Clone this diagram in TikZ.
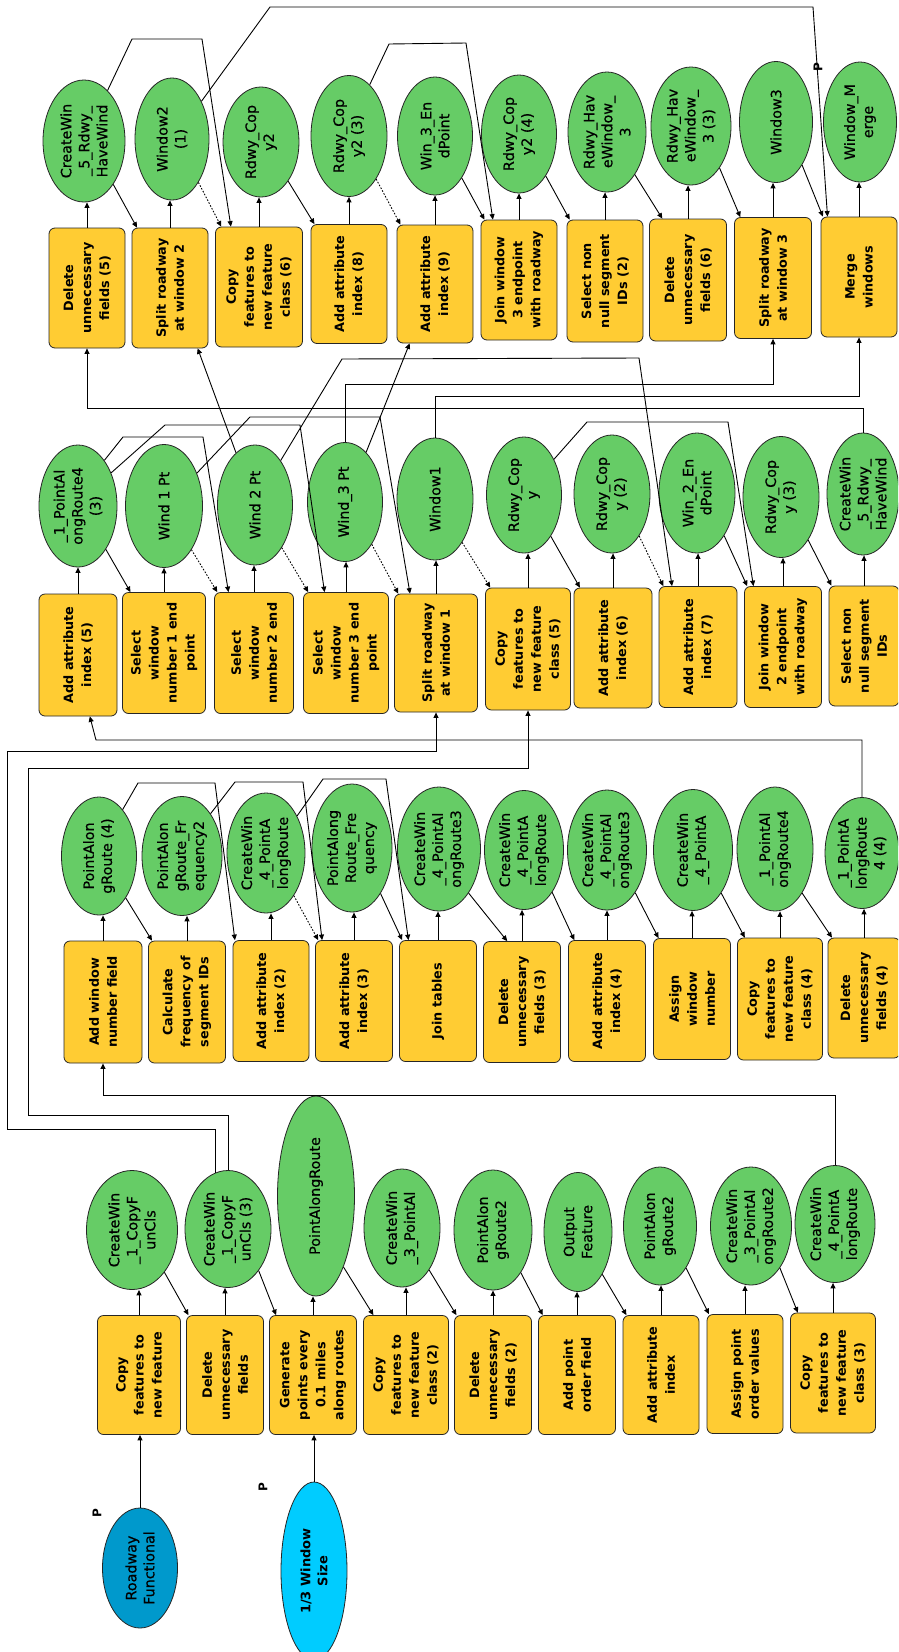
\documentclass[tikz,border=0pt]{standalone}
\usepackage{fontspec}
\setmainfont{DejaVu Sans}
\newfontfamily\medfont{DejaVu Sans}[FakeBold=0.5]
\usetikzlibrary{shapes.geometric,arrows.meta,calc}
\definecolor{procyellow}{HTML}{FFCC33}
\definecolor{vargreen}{HTML}{66CC66}
\definecolor{inblue}{HTML}{0099CC}
\definecolor{incyan}{HTML}{00CCFF}
\newcommand\bxfont{\bfseries\fontsize{12.8}{18}\selectfont}
\newcommand\vrfont{\medfont\fontsize{14.3}{18}\selectfont}
\begin{document}
\begin{tikzpicture}[x=1pt,y=-1pt,
  procbox/.style={draw=black!85, line width=0.8pt, fill=procyellow, rounded corners=6pt, rotate=90, align=center, inner sep=1pt, font=\bxfont},
  dvar/.style={draw=black!85, line width=0.8pt, fill=vargreen, ellipse, rotate=90, align=center, inner sep=0pt, font=\vrfont},
  sz/.style 2 args={minimum width=#2pt, minimum height=#1pt},
  conn/.style={line width=0.9pt, -{Triangle[length=5.5pt,width=5pt]}},
  prec/.style={conn, dash pattern=on 1.6pt off 1.6pt},
  plabel/.style={rotate=90, font=\bfseries\fontsize{12}{13}\selectfont, inner sep=0pt}]
\useasboundingbox (0,0) rectangle (898,1652);
\clip (0,0) rectangle (898,1652);
\fill[white] (0,0) rectangle (898,1652);

% ---------------- Band D (top)
\node[procbox, sz={76}{120}] (D1b) at (87,288) {Delete\\unnecessary\\fields (5)};
\node[dvar, sz={82}{122}] (D1e) at (84,141) {CreateWin\\\_5\_Rdwy\_\\HaveWind};
\node[procbox, sz={76}{120}] (D2b) at (170,288) {Split roadway\\at window 2};
\node[dvar, sz={74}{122}] (D2e) at (172,139) {Window2\\(1)};
\node[procbox, sz={87}{120}] (D3b) at (259,287) {Copy\\features to\\new feature\\class (6)};
\node[dvar, sz={76}{110}] (D3e) at (261,142) {Rdwy\_Cop\\y2};
\node[procbox, sz={76}{119}] (D4b) at (349,284) {Add attribute\\index (8)};
\node[dvar, sz={76}{121}] (D4e) at (349,136) {Rdwy\_Cop\\y2 (3)};
\node[procbox, sz={76}{118}] (D5b) at (435,284) {Add attribute\\index (9)};
\node[dvar, sz={75}{118}] (D5e) at (435,136) {Win\_3\_En\\dPoint};
\node[procbox, sz={76}{120}] (D6b) at (519,280) {Join window\\3 endpoint\\with roadway};
\node[dvar, sz={75}{118}] (D6e) at (519,134) {Rdwy\_Cop\\y2 (4)};
\node[procbox, sz={76}{122}] (D7b) at (605,281) {Select non\\null segment\\IDs (2)};
\node[dvar, sz={78}{120}] (D7e) at (607,132) {Rdwy\_Hav\\eWindow\_\\3};
\node[procbox, sz={77}{122}] (D8b) at (688,280) {Delete\\unnecessary\\fields (6)};
\node[dvar, sz={80}{118}] (D8e) at (691,126) {Rdwy\_Hav\\eWindow\_\\3 (3)};
\node[procbox, sz={77}{121}] (D9b) at (773,278) {Split roadway\\at window 3};
\node[dvar, sz={73}{121}] (D9e) at (776,122) {Window3};
\node[procbox, sz={76}{120}] (D10b) at (859,277) {Merge\\windows};
\node[dvar, sz={73}{120}] (D10e) at (860,122) {Window\_M\\erge};

% ---------------- Band C
\node[procbox, sz={78}{122}] (C1b) at (78,655) {Add attribute\\index (5)};
\node[dvar, sz={78}{122}] (C1e) at (78,506) {\_1\_PointAl\\ongRoute4\\(3)};
\node[procbox, sz={83}{121}] (C2b) at (164,653) {Select\\window\\number 1 end\\point};
\node[dvar, sz={77}{123}] (C2e) at (164,506) {Wind 1 Pt};
\node[procbox, sz={79}{121}] (C3b) at (254,653) {Select\\window\\number 2 end};
\node[dvar, sz={75}{120}] (C3e) at (255,505) {Wind 2 Pt};
\node[procbox, sz={85}{121}] (C4b) at (346,653) {Select\\window\\number 3 end\\point};
\node[dvar, sz={75}{119}] (C4e) at (345,502) {Wind\_3 Pt};
\node[procbox, sz={83}{118}] (C5b) at (436,653) {Split roadway\\at window 1};
\node[dvar, sz={76}{122}] (C5e) at (435,499) {Window1};
\node[procbox, sz={85}{122}] (C6b) at (528,649) {Copy\\features to\\new feature\\class (5)};
\node[dvar, sz={75}{116}] (C6e) at (524,495) {Rdwy\_Cop\\y};
\node[procbox, sz={78}{120}] (C7b) at (613,648) {Add attribute\\index (6)};
\node[dvar, sz={76}{118}] (C7e) at (612,494) {Rdwy\_Cop\\y (2)};
\node[procbox, sz={78}{121}] (C8b) at (698,647) {Add attribute\\index (7)};
\node[dvar, sz={76}{120}] (C8e) at (697,493) {Win\_2\_En\\dPoint};
\node[procbox, sz={77}{121}] (C9b) at (783,647) {Join window\\2 endpoint\\with roadway};
\node[dvar, sz={76}{121}] (C9e) at (781,497) {Rdwy\_Cop\\y (3)};
\node[procbox, sz={70}{120}] (C10b) at (864,646) {Select non\\null segment\\IDs};
\node[dvar, sz={72}{122}] (C10e) at (863,494) {CreateWin\\\_5\_Rdwy\_\\HaveWind};

% ---------------- Band B
\node[procbox, sz={78}{122}] (B1b) at (103,1002) {Add window\\number field};
\node[dvar, sz={75}{118}] (B1e) at (99,856) {PointAlon\\gRoute (4)};
\node[procbox, sz={77}{122}] (B2b) at (187,1002) {Calculate\\frequency of\\segment IDs};
\node[dvar, sz={80}{119}] (B2e) at (182,856) {PointAlon\\gRoute\_Fr\\equency2};
\node[procbox, sz={76}{121}] (B3b) at (271,1001) {Add attribute\\index (2)};
\node[dvar, sz={78}{120}] (B3e) at (266,853) {CreateWin\\\_4\_PointA\\longRoute};
\node[procbox, sz={77}{121}] (B4b) at (354,1001) {Add attribute\\index (3)};
\node[dvar, sz={80}{128}] (B4e) at (352,848) {PointAlong\\Route\_Fre\\quency};
\node[procbox, sz={77}{121}] (B5b) at (438,1001) {Join tables};
\node[dvar, sz={83}{124}] (B5e) at (439,849) {CreateWin\\\_4\_PointAl\\ongRoute3};
\node[procbox, sz={77}{121}] (B6b) at (522,1002) {Delete\\unnecessary\\fields (3)};
\node[dvar, sz={79}{119}] (B6e) at (524,850) {CreateWin\\\_4\_PointA\\longRoute};
\node[procbox, sz={77}{121}] (B7b) at (607,1001) {Add attribute\\index (4)};
\node[dvar, sz={79}{120}] (B7e) at (607,850) {CreateWin\\\_4\_PointAl\\ongRoute3};
\node[procbox, sz={77}{121}] (B8b) at (692,999) {Assign\\window\\number};
\node[dvar, sz={79}{121}] (B8e) at (693,850) {CreateWin\\\_4\_PointA};
\node[procbox, sz={85}{122}] (B9b) at (780,999) {Copy\\features to\\new feature\\class (4)};
\node[dvar, sz={76}{124}] (B9e) at (775,849) {\_1\_PointAl\\ongRoute4};
\node[procbox, sz={72}{120}] (B10b) at (864,998) {Delete\\unnecessary\\fields (4)};
\node[dvar, sz={74}{111}] (B10e) at (862,853) {\_1\_PointA\\longRoute\\4 (4)};

% ---------------- Band A (bottom)
\node[procbox, sz={83}{119}] (A1b) at (139,1375) {Copy\\features to\\new feature};
\node[dvar, sz={91}{119}] (A1e) at (132,1230) {CreateWin\\\_1\_CopyF\\unCls};
\node[procbox, sz={77}{119}] (A2b) at (225,1375) {Delete\\unnecessary\\fields};
\node[dvar, sz={86}{117}] (A2e) at (228,1229) {CreateWin\\\_1\_CopyF\\unCls (3)};
\node[procbox, sz={87}{119}] (A3b) at (313,1375) {Generate\\points every\\0.1 miles\\along routes};
\node[dvar, sz={77}{200}] (A3e) at (316,1196) {PointAlongRoute};
\node[procbox, sz={85}{119}] (A4b) at (406,1375) {Copy\\features to\\new feature\\class (2)};
\node[dvar, sz={76}{118}] (A4e) at (402,1228) {CreateWin\\\_3\_PointAl};
\node[procbox, sz={77}{119}] (A5b) at (493,1375) {Delete\\unnecessary\\fields (2)};
\node[dvar, sz={78}{120}] (A5e) at (493,1230) {PointAlon\\gRoute2};
\node[procbox, sz={77}{119}] (A6b) at (577,1375) {Add point\\order field};
\node[dvar, sz={68}{119}] (A6e) at (578,1232) {Output\\Feature};
\node[procbox, sz={76}{119}] (A7b) at (661,1375) {Add attribute\\index};
\node[dvar, sz={73}{118}] (A7e) at (660,1226) {PointAlon\\gRoute2};
\node[procbox, sz={76}{119}] (A8b) at (745,1374) {Assign point\\order values};
\node[dvar, sz={81}{118}] (A8e) at (751,1226) {CreateWin\\\_3\_PointAl\\ongRoute2};
\node[procbox, sz={85}{120}] (A9b) at (833,1373) {Copy\\features to\\new feature\\class (3)};
\node[dvar, sz={80}{117}] (A9e) at (835,1224) {CreateWin\\\_4\_PointA\\longRoute};

% ---------------- inputs
\node[dvar, fill=inblue, sz={75}{120}] (RF) at (140,1568) {Roadway\\Functional};
\node[dvar, fill=incyan, sz={66}{178}, font=\bfseries\fontsize{13}{17}\selectfont] (WS) at (314,1571) {1/3 Window\\Size};
\node[plabel] (P1) at (97,1513) {P};
\node[plabel] (P2) at (263,1487) {P};
\node[plabel] (P3) at (818,67) {P};

% ---------------- box -> output (vertical)
\foreach \c in {D1,D2,D3,D4,D5,D6,D7,D8,D9,D10,C1,C2,C3,C4,C5,C6,C7,C8,C9,C10,B1,B2,B3,B4,B5,B6,B7,B8,B9,B10,A1,A2,A3,A4,A5,A6,A7,A8,A9}
  {\draw[conn] (\c b.east) -- (\c b.east |- \c e.west);}

% ---------------- output -> next tool (solid)
\foreach \a/\b/\f in {D1/D2/0.07, D3/D4/0.05, D5/D6/0.05, D6/D7/0.04, D7/D8/0.17, D8/D9/0.08, D9/D10/0.03,
  C1/C2/0.1, C6/C7/0.08, C8/C9/0.04, C9/C10/0.04,
  B1/B2/0.05, B4/B5/0.04, B5/B6/0.31, B6/B7/0.08, B7/B8/0.07, B8/B9/0.09, B9/B10/0.06,
  A1/A2/0.03, A2/A3/0.08, A3/A4/0.12, A4/A5/0.03, A5/A6/0.06, A6/A7/0.05, A7/A8/0.03, A8/A9/0.09}
  {\draw[conn] (\a e.south west) -- ($(\b b.north east)!\f!(\b b.south east)$);}

% ---------------- preconditions (dotted)
\foreach \a/\b/\f in {D2/D3/0.07, D4/D5/0.05, C2/C3/0.04, C3/C4/0.06, C4/C5/0.05, C5/C6/0.06, C7/C8/0.06, B3/B4/0.04}
  {\draw[prec] (\a e.south west) -- ($(\b b.north east)!\f!(\b b.south east)$);}

% ---------------- inputs
\draw[conn] (RF.east) -- (RF.east |- A1b.west);
\draw[conn] (WS.east) -- (WS.east |- A3b.west);

% ---------------- long connectors
\draw[conn] (D1e.335) -- (132,39) -- (202,39) -- ($(D3b.north east)!0.18!(D3b.south east)$);
\draw[conn] (D2e.322) -- (270,7) -- (813,7) -- ($(D10b.north east)!0.09!(D10b.south east)$);
\draw[conn] (D4e.338) -- (389,44) -- (466,43) -- ($(D6b.north east)!0.16!(D6b.south east)$);
\draw[conn] (C10e.east) -- (C10e.east |- 0,408) -- (D1b.west |- 0,408) -- (D1b.west);
\draw[conn] (C3e.20) -- ($(D2b.north west)!0.86!(D2b.south west)$);
\draw[conn] (C4e.337) -- ($(D5b.north west)!0.17!(D5b.south west)$);
\draw[conn] (C3e.330) -- (342,359) -- (639,358) -- ($(C8b.north east)!0.17!(C8b.south east)$);
\draw[conn] (C4e.east) -- (C4e.east |- 0,384) -- (D9b.west |- 0,384) -- (D9b.west);
\draw[conn] (C5e.east) -- (C5e.east |- 0,396) -- (D10b.west |- 0,396) -- (D10b.west);
\draw[conn] (C1e.330) -- (123,437) -- (203,437) -- ($(C3b.north east)!0.18!(C3b.south east)$);
\draw[conn] (C1e.315) -- (165,425) -- (300,425) -- ($(C4b.north east)!0.25!(C4b.south east)$);
\draw[conn] (C2e.315) -- (250,417) -- (380,417) -- ($(C5b.north east)!0.19!(C5b.south east)$);
\draw[conn] (C6e.320) -- (587,422) -- (728,422) -- ($(C9b.north east)!0.12!(C9b.south east)$);
\draw[conn] (B10e.east) -- (B10e.east |- 0,740) -- (96,740) -- ($(C1b.north west)!0.65!(C1b.south west)$);
\draw[conn] (A2e.13) -- (A2e.13 |- 0,1129) -- (7,1129) -- (7,751) -- (C5b.west |- 0,751) -- (C5b.west);
\draw[conn] (A2e.east) -- (A2e.east |- 0,1115) -- (28,1115) -- (28,768) -- (C6b.west |- 0,768) -- (C6b.west);
\draw[conn] (A9e.east) -- (A9e.east |- 0,1095) -- (B1b.west |- 0,1095) -- (B1b.west);
\draw[conn] (B1e.333) -- (138,783) -- (215,783) -- ($(B3b.north east)!0.03!(B3b.south east)$);
\draw[conn] (B2e.326) -- (235,782) -- (303,782) -- ($(B4b.north east)!0.09!(B4b.south east)$);
\draw[conn] (B3e.320) -- (323,779) -- (386,779) -- ($(B5b.north east)!0.12!(B5b.south east)$);
\end{tikzpicture}
\end{document}
